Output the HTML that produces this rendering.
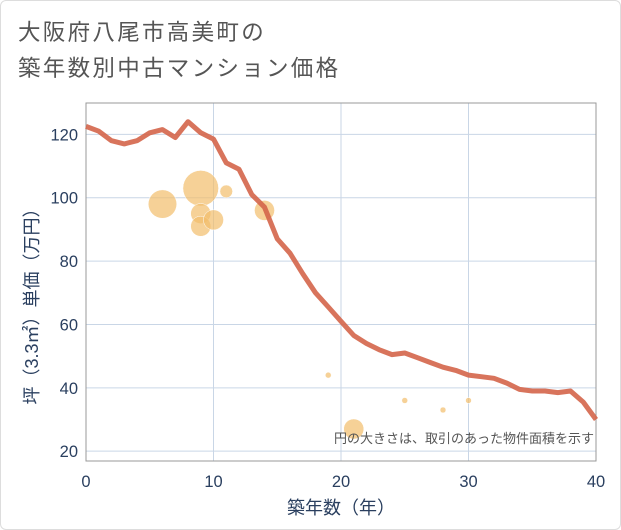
<!DOCTYPE html>
<html><head><meta charset="utf-8">
<style>
html,body{margin:0;padding:0;background:#fff;}
#wrap{position:relative;width:619px;height:528px;border:1px solid #ddd;border-radius:6px;overflow:hidden;font-family:"Liberation Sans","Noto Sans CJK JP",sans-serif;}
.title{position:absolute;left:17px;font-size:22.5px;color:#555;letter-spacing:2.3px;white-space:nowrap;}
</style></head>
<body>
<div id="wrap">
<div class="title" style="top:14px">大阪府八尾市高美町の</div>
<div class="title" style="top:50px">築年数別中古マンション価格</div>
<svg id="chart" width="621" height="530" style="position:absolute;left:-1px;top:-1px"></svg>
</div>
<script>
const lineYears=[0,1,2,3,4,5,6,7,8,9,10,11,12,13,14,15,16,17,18,19,20,21,22,23,24,25,26,27,28,29,30,31,32,33,34,35,36,37,38,39,40];
const linePrices=[122.5,121,118,117,118,120.5,121.5,119,124,120.5,118.5,111,109,101,97,87,82.5,76,70,65.5,61,56.5,54,52,50.5,51,49.5,48,46.5,45.5,44,43.5,43,41.5,39.5,39,39,38.5,39,35.5,30];
const bubbleYears=[6,9,9,9,10,11,14,19,21,25,28,30];
const bubblePrices=[98,103,95,91,93,102,96,44,27,36,33,36];
const bubbleAreas=[70,110,35,35,35,14,35,3,35,3,3,3];
const xTicks=[0,10,20,30,40];
const yTicks=[20,40,60,80,100,120];
const X0=86,X1=596,Y0=461,Y1=103,XMIN=0,XMAX=40,YMIN=16.9,YMAX=129.9;
function sx(v){return X0+(v-XMIN)/(XMAX-XMIN)*(X1-X0);}
function sy(v){return Y0-(v-YMIN)/(YMAX-YMIN)*(Y0-Y1);}
const NS="http://www.w3.org/2000/svg";
const svg=document.getElementById('chart');
function mk(t,a){const e=document.createElementNS(NS,t);for(const k in a)e.setAttribute(k,a[k]);svg.appendChild(e);return e;}
let bg=mk('rect',{x:X0,y:Y1,width:X1-X0,height:Y0-Y1,fill:'#fff'});


xTicks.forEach(t=>{
 let g=mk('line',{x1:sx(t),x2:sx(t),y1:Y1,y2:Y0,stroke:'#c9d6e6','stroke-width':1});
 
 
 let l=mk('text',{x:sx(t),y:Y0+26,'text-anchor':'middle','font-size':16.5,fill:'#2a3f5f'});
 l.textContent=t;
 
 
});
yTicks.forEach(t=>{
 let g=mk('line',{x1:X0,x2:X1,y1:sy(t),y2:sy(t),stroke:'#c9d6e6','stroke-width':1});
 
 
 let l=mk('text',{x:X0-8,y:sy(t)+6,'text-anchor':'end','font-size':16.5,fill:'#2a3f5f'});
 l.textContent=t;
 
 
});
let fr=mk('rect',{x:X0,y:Y1,width:X1-X0,height:Y0-Y1,fill:'none',stroke:'#999','stroke-width':1});


bubbleYears.forEach((yr,i)=>{
 const r=Math.sqrt(bubbleAreas[i])*1.7;
 let c=mk('circle',{cx:sx(yr),cy:sy(bubblePrices[i]),r:r,fill:'#f2bd6b','fill-opacity':0.7,stroke:'#fff','stroke-width':0.5});
 
 
});
let d=lineYears.map((yr,i)=>(i?'L':'M')+sx(yr).toFixed(1)+','+sy(linePrices[i]).toFixed(1)).join(' ');
let p=mk('path',{d:d,fill:'none',stroke:'#d4654a','stroke-opacity':0.9,'stroke-width':5,'stroke-linejoin':'round'});


let note=mk('text',{x:X1-2,y:443,'text-anchor':'end','font-size':13,fill:'#555'});
note.textContent='円の大きさは、取引のあった物件面積を示す';


let xt=mk('text',{x:(X0+X1)/2,y:514,'text-anchor':'middle','font-size':18,fill:'#2a3f5f'});
xt.textContent='築年数（年）';


let yt=mk('text',{x:0,y:0,'text-anchor':'middle','font-size':18,fill:'#2a3f5f',transform:'translate(38,'+((Y0+Y1)/2+20)+') rotate(-90)'});
yt.textContent='坪（3.3㎡）単価（万円）';


</script>
</body></html>
